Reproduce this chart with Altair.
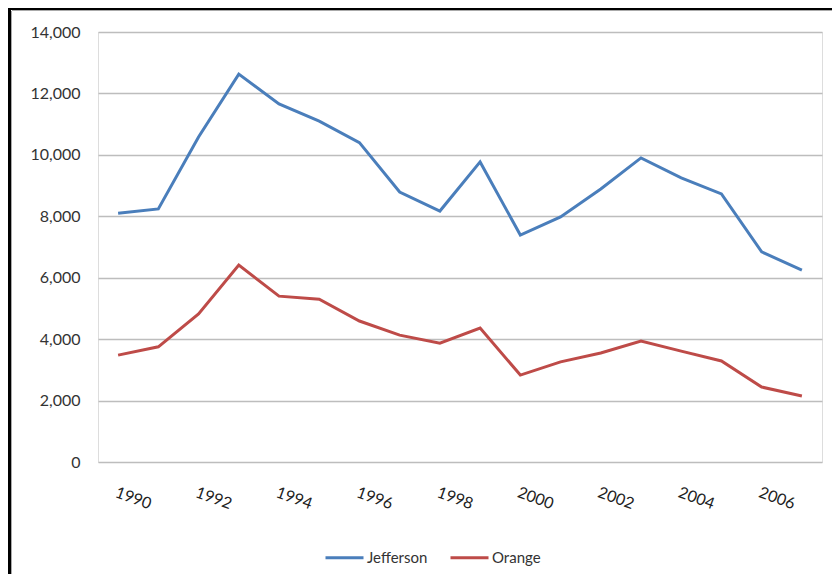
import altair as alt
import pandas as pd

years = list(range(1990, 2008))
jefferson = [8100, 8240, 10580, 12630, 11660, 11100, 10400, 8790, 8170, 9770,
             7390, 7980, 8890, 9900, 9250, 8730, 6840, 6250]
orange = [3480, 3750, 4820, 6410, 5400, 5300, 4590, 4130, 3870, 4360,
          2830, 3260, 3550, 3940, 3610, 3290, 2440, 2150]
series_names = ["Jefferson", "Orange"]
series_colors = ["#4a7ebb", "#be4b48"]
label_years = list(range(1990, 2007, 2))
y_ticks = list(range(0, 14001, 2000))

rows = []
for name, vals in zip(series_names, [jefferson, orange]):
    for yr, v in zip(years, vals):
        rows.append({"year": yr, "value": v, "series": name})
df = pd.DataFrame(rows)

FONT = "Lato"

lines = alt.Chart(df).mark_line(strokeWidth=3).encode(
    x=alt.X("year:O", title=None,
            axis=alt.Axis(values=label_years, labelAngle=20, labelAlign="left",
                          labelBaseline="top", labelPadding=22, ticks=False,
                          domain=False, grid=False, labelFontSize=16,
                          labelColor="#222222", labelFont=FONT)),
    y=alt.Y("value:Q", title=None,
            scale=alt.Scale(domain=[0, 14000], nice=False),
            axis=alt.Axis(values=y_ticks, format=",.0f", ticks=False, domain=False,
                          labelPadding=18, labelFontSize=16, labelColor="#333333",
                          labelFont=FONT, gridColor="#bdbdbd", gridWidth=1.5)),
    color=alt.Color("series:N", title=None,
                    scale=alt.Scale(domain=series_names, range=series_colors),
                    legend=alt.Legend(orient="none", legendX=226, legendY=505,
                                      direction="horizontal", symbolType="stroke",
                                      symbolSize=1444, symbolStrokeWidth=3,
                                      labelFontSize=15, labelFont=FONT,
                                      labelColor="#333333", labelOffset=2,
                                      columnPadding=16, padding=0)),
)

one = alt.Data(values=[{}])
top_black = alt.Chart(one).mark_rule(color="black", strokeWidth=2).encode(
    x=alt.value(-92), x2=alt.value(740), y=alt.value(-23))
top_gray = alt.Chart(one).mark_rule(color="#aaaaaa", strokeWidth=1).encode(
    x=alt.value(-86), x2=alt.value(740), y=alt.value(-21.5))
left_black = alt.Chart(one).mark_rule(color="black", strokeWidth=3).encode(
    x=alt.value(-88.5), y=alt.value(-24), y2=alt.value(560))
left_gray = alt.Chart(one).mark_rule(color="#aaaaaa", strokeWidth=1).encode(
    x=alt.value(-86.5), y=alt.value(-21), y2=alt.value(560))

chart = alt.layer(lines, top_black, top_gray, left_black, left_gray).properties(
    width=724, height=430,
    autosize=alt.AutoSizeParams(type="none"),
    padding={"left": 90, "top": 24, "right": 10, "bottom": 112},
).configure_view(stroke=None).configure(background="white")

chart.save("out.html", embed_options={"renderer": "svg", "actions": False})
